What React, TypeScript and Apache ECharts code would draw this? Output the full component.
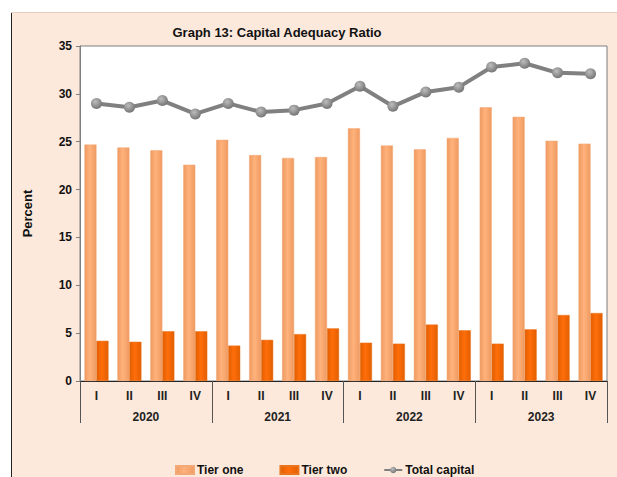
import React, { useEffect, useRef } from "react";
import * as echarts from "echarts";

const quarters = ["I", "II", "III", "IV", "I", "II", "III", "IV", "I", "II", "III", "IV", "I", "II", "III", "IV"];
const years = ["2020", "2021", "2022", "2023"];
const tierOne = [24.7, 24.4, 24.1, 22.6, 25.2, 23.6, 23.3, 23.4, 26.4, 24.6, 24.2, 25.4, 28.6, 27.6, 25.1, 24.8];
const tierTwo = [4.2, 4.1, 5.2, 5.2, 3.7, 4.3, 4.9, 5.5, 4.0, 3.9, 5.9, 5.3, 3.9, 5.4, 6.9, 7.1];
const totalCapital = [29.0, 28.6, 29.3, 27.9, 29.0, 28.1, 28.3, 29.0, 30.8, 28.7, 30.2, 30.7, 32.8, 33.2, 32.2, 32.1];

const FONT = "'Liberation Sans Narrow', 'Arial Narrow', 'Liberation Sans', Arial, sans-serif";

export default function App() {
  const ref = useRef<HTMLDivElement>(null);
  useEffect(() => {
    if (!ref.current) return;
    const chart = echarts.init(ref.current, null, { renderer: "svg" });
    const hGrad = (edge: string, mid: string) =>
      new echarts.graphic.LinearGradient(0, 0, 1, 0, [
        { offset: 0, color: edge },
        { offset: 0.45, color: mid },
        { offset: 1, color: edge },
      ]);
    chart.setOption({
      animation: false,
      backgroundColor: "#ffffff",
      graphic: [
        {
          type: "rect",
          z: -10,
          silent: true,
          shape: { x: 11, y: 12, width: 606, height: 465 },
          style: { fill: "#FDE9DC", stroke: "none" },
        },
        {
          type: "line",
          z: -9,
          silent: true,
          shape: { x1: 11.5, y1: 12, x2: 11.5, y2: 477 },
          style: { stroke: "#222", lineWidth: 1 },
        },
        {
          type: "line",
          z: -9,
          silent: true,
          shape: { x1: 11, y1: 12.5, x2: 617, y2: 12.5 },
          style: { stroke: "#E6CFC0", lineWidth: 1 },
        },
      ],
      title: {
        text: "Graph 13: Capital Adequacy Ratio",
        left: 272,
        textAlign: "center",
        top: 21,
        textStyle: { fontFamily: FONT, fontWeight: "bold", fontSize: 13, color: "#111" },
      },
      legend: {
        left: 170,
        top: 459,
        itemGap: 36,
        itemWidth: 18,
        itemHeight: 8,
        textStyle: { fontFamily: FONT, fontWeight: "bold", fontSize: 12, color: "#111", padding: [0, 0, 0, -2] },
        data: [
          { name: "Tier one", icon: "rect" },
          { name: "Tier two", icon: "rect" },
          { name: "Total capital" },
        ],
      },
      grid: {
        left: 80,
        right: 10,
        top: 46,
        bottom: 96,
        show: true,
        backgroundColor: "#ffffff",
        borderColor: "#7f7f7f",
        borderWidth: 1,
      },
      xAxis: [
        {
          type: "category",
          data: quarters,
          position: "bottom",
          axisLine: { show: true, lineStyle: { color: "#222", width: 1 } },
          axisTick: { show: false },
          axisLabel: { margin: 9, fontFamily: FONT, fontWeight: "bold", fontSize: 12, color: "#222" },
        },
        {
          type: "category",
          data: years,
          position: "bottom",
          offset: 0,
          axisLine: { show: false },
          axisTick: { show: true, length: 42, lineStyle: { color: "#555" } },
          axisLabel: { margin: 30, fontFamily: FONT, fontWeight: "bold", fontSize: 12, color: "#222" },
        },
      ],
      yAxis: {
        type: "value",
        min: 0,
        max: 35,
        interval: 5,
        name: "Percent",
        nameLocation: "middle",
        nameGap: 46,
        nameTextStyle: { fontFamily: FONT, fontWeight: "bold", fontSize: 13, color: "#111" },
        axisLine: { show: true, lineStyle: { color: "#7f7f7f" } },
        axisTick: { show: true, length: 4, lineStyle: { color: "#7f7f7f" } },
        splitLine: { show: false },
        axisLabel: { margin: 8, fontFamily: FONT, fontWeight: "bold", fontSize: 12, color: "#111" },
      },
      series: [
        {
          name: "Tier one",
          type: "bar",
          data: tierOne,
          barGap: "0%",
          barCategoryGap: "27%",
          itemStyle: { color: hGrad("#EE9A60", "#FFB27C"), borderColor: "#F3A877", borderWidth: 0.5 },
        },
        {
          name: "Tier two",
          type: "bar",
          data: tierTwo,
          barGap: "0%",
          barCategoryGap: "27%",
          itemStyle: { color: hGrad("#E25E00", "#FF6E0A"), borderColor: "#E9741E", borderWidth: 0.5 },
        },
        {
          name: "Total capital",
          type: "line",
          data: totalCapital,
          symbol: "circle",
          symbolSize: 11,
          z: 5,
          lineStyle: { color: "#808080", width: 4 },
          itemStyle: {
            color: new echarts.graphic.RadialGradient(0.4, 0.35, 0.7, [
              { offset: 0, color: "#bdbdbd" },
              { offset: 1, color: "#707070" },
            ]),
          },
        },
      ],
    });
    return () => chart.dispose();
  }, []);
  return (
    <div
      ref={ref}
      style={{ position: "absolute", left: 0, top: 0, width: 617, height: 477 }}
    />
  );
}
